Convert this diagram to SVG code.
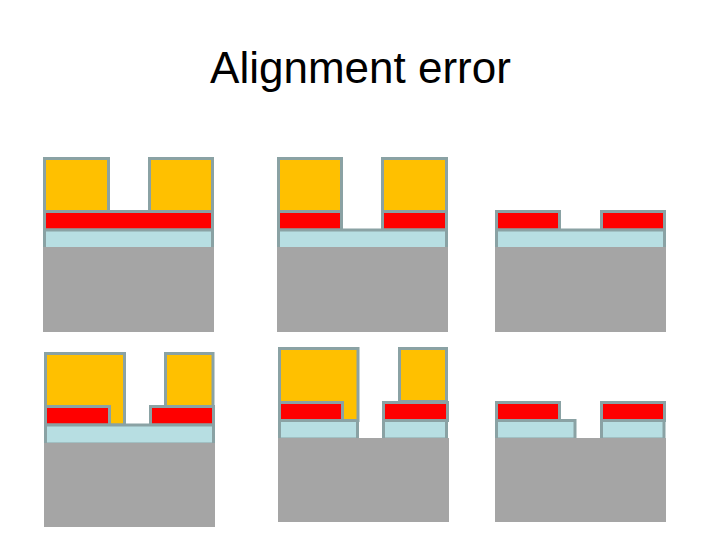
<svg xmlns="http://www.w3.org/2000/svg" width="720" height="540" viewBox="0 0 720 540">
<style>
rect{stroke:#8aa2a4;stroke-width:3}
.y{fill:#ffc000}
.r{fill:#ff0000}
.b{fill:#b7dee2}
.g{fill:#a5a5a5;stroke:none}
text{font-family:"Liberation Sans",Arial,sans-serif;font-size:44px;fill:#000}
</style>
<rect width="720" height="540" fill="#fff" style="stroke:none"/>
<text x="360.5" y="83" text-anchor="middle">Alignment error</text>
<g id="panel-1">
<rect class="y" x="44.5" y="158.5" width="64" height="53"/>
<rect class="y" x="149.5" y="158.5" width="63" height="53"/>
<rect class="r" x="44.5" y="211.5" width="168" height="18.5"/>
<rect class="b" x="44.5" y="230" width="168" height="18.5"/>
<rect class="g" x="43" y="247" width="171" height="85"/>
</g>
<g id="panel-2">
<rect class="y" x="278.5" y="158.5" width="63" height="53"/>
<rect class="y" x="382.5" y="158.5" width="64" height="53"/>
<rect class="r" x="278.5" y="211.5" width="63" height="18.5"/>
<rect class="r" x="382.5" y="211.5" width="64" height="18.5"/>
<rect class="b" x="278.5" y="230" width="168" height="18.5"/>
<rect class="g" x="277" y="247" width="171" height="85"/>
</g>
<g id="panel-3">
<rect class="r" x="496.5" y="211.5" width="63" height="18.5"/>
<rect class="r" x="601.5" y="211.5" width="63" height="18.5"/>
<rect class="b" x="496.5" y="230" width="168" height="18.5"/>
<rect class="g" x="495" y="247" width="171" height="85"/>
</g>
<g id="panel-4">
<rect class="y" x="45.5" y="353.5" width="79" height="71.5"/>
<rect class="y" x="165.5" y="353.5" width="47.5" height="53"/>
<rect class="r" x="45.5" y="406.5" width="64" height="18.5"/>
<rect class="r" x="150.5" y="406.5" width="63" height="18.5"/>
<rect class="b" x="45.5" y="425" width="168" height="19"/>
<rect class="g" x="44" y="443" width="171" height="84"/>
</g>
<g id="panel-5">
<rect class="y" x="279.5" y="348.5" width="78.5" height="72"/>
<rect class="y" x="399.5" y="348.5" width="47" height="53"/>
<rect class="r" x="279.5" y="402.5" width="63" height="18"/>
<rect class="r" x="383.5" y="402.5" width="64" height="18"/>
<rect class="b" x="279.5" y="420.5" width="78" height="18.5"/>
<rect class="b" x="383.5" y="420.5" width="63" height="18.5"/>
<rect class="g" x="278" y="438" width="171" height="84"/>
</g>
<g id="panel-6">
<rect class="r" x="496.5" y="402.5" width="63" height="18"/>
<rect class="r" x="601.5" y="402.5" width="63" height="18"/>
<rect class="b" x="496.5" y="420.5" width="78.5" height="18.5"/>
<rect class="b" x="601.5" y="420.5" width="62.5" height="18.5"/>
<rect class="g" x="495" y="438" width="171" height="84"/>
</g>
</svg>
